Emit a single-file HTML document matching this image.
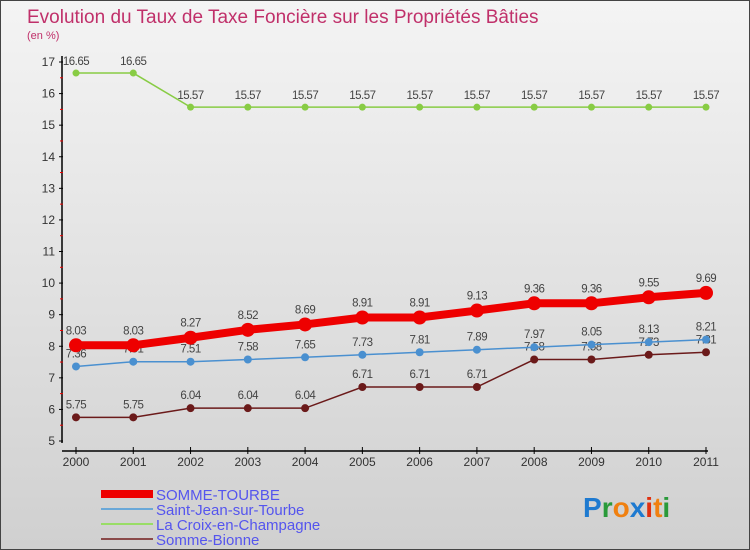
<!DOCTYPE html>
<html><head><meta charset="utf-8"><style>
body{margin:0;}
#wrap{width:750px;height:550px;position:relative;overflow:hidden;background:linear-gradient(#f4f4f4,#d0d0d0);box-sizing:border-box;border:1px solid #444;font-family:"Liberation Sans",sans-serif;}
</style></head><body>
<div id="wrap">
<svg id="chart" width="750" height="550"></svg>
</div>
<script>
const years=["2000","2001","2002","2003","2004","2005","2006","2007","2008","2009","2010","2011"];
const sommeTourbe=[8.03,8.03,8.27,8.52,8.69,8.91,8.91,9.13,9.36,9.36,9.55,9.69];
const saintJean=[7.36,7.51,7.51,7.58,7.65,7.73,7.81,7.89,7.97,8.05,8.13,8.21];
const laCroix=[16.65,16.65,15.57,15.57,15.57,15.57,15.57,15.57,15.57,15.57,15.57,15.57];
const sommeBionne=[5.75,5.75,6.04,6.04,6.04,6.71,6.71,6.71,7.58,7.58,7.73,7.81];
const yTicks=[5,6,7,8,9,10,11,12,13,14,15,16,17];
const NS="http://www.w3.org/2000/svg";
const svg=document.getElementById('chart');
function X(i){return 75+i*(705-75)/11;}
function Y(v){return 440-(v-5)*(440-61)/12;}
function mk(t,a,p){const e=document.createElementNS(NS,t);for(const k in a)e.setAttribute(k,a[k]);(p||svg).appendChild(e);return e;}
function txt(x,y,s,a,p){const e=mk('text',Object.assign({x:x,y:y,'font-family':'Liberation Sans, sans-serif'},a),p);e.textContent=s;return e;}
let t=txt(26,22,"Evolution du Taux de Taxe Foncière sur les Propriétés Bâties",{fill:'#c0306a','font-size':19});


t=txt(26,38,"(en %)",{fill:'#c0306a','font-size':11});


let ax=mk('line',{x1:61,y1:55,x2:61,y2:442,stroke:'#000','stroke-width':1.5});


ax=mk('line',{x1:61,y1:450,x2:707,y2:450,stroke:'#000','stroke-width':1.5});


yTicks.forEach(v=>{
 mk('line',{x1:58,y1:Y(v),x2:62,y2:Y(v),stroke:'#000'});
 if(v<17) mk('line',{x1:59,y1:Y(v+0.5),x2:62,y2:Y(v+0.5),stroke:'#e00'});
 const l=txt(54,Y(v)+4,String(v),{'font-size':12,fill:'#333','text-anchor':'end'});
 
 
});
years.forEach((y,i)=>{
 mk('line',{x1:X(i),y1:446,x2:X(i),y2:453,stroke:'#000'});
 const l=txt(X(i),465,y,{'font-size':12,fill:'#333','text-anchor':'middle'});
 
 
});
function series(vals,color,w,r,name,labelOff){
 const g=mk('g',{});
 
 
 mk('polyline',{points:vals.map((v,i)=>X(i)+','+Y(v)).join(' '),fill:'none',stroke:color,'stroke-width':w},g);
 vals.forEach((v,i)=>{
  const c=mk('circle',{cx:X(i),cy:Y(v),r:r,fill:color},g);
  
  
  const l=txt(X(i),Y(v)-labelOff,String(v),{'font-size':11.5,fill:'#444','text-anchor':'middle','letter-spacing':'-0.5'},g);
  
  
 });
}
series(laCroix,'#88cc44',1.5,3.5,'la-croix-series',8);
series(sommeBionne,'#6b1a1a',1.5,4,'somme-bionne-series',9);
series(saintJean,'#4a90d0',1.5,4,'saint-jean-series',9);
series(sommeTourbe,'#ee0000',8,7,'somme-tourbe-series',11);
const legend=[["SOMME-TOURBE","#ee0000",8],["Saint-Jean-sur-Tourbe","#6aa8d8",2],["La Croix-en-Champagne","#99dd66",2],["Somme-Bionne","#8a4a4a",2]];
legend.forEach((l,i)=>{
 const y=493+i*15;
 const g=mk('g',{});
 
 
 mk('line',{x1:100,y1:y,x2:152,y2:y,stroke:l[1],'stroke-width':l[2]},g);
 txt(155,y+6,l[0],{'font-size':15,fill:'#5555ee'},g);
});
const logo=txt(582,516,"",{'font-size':28,'font-weight':'bold'});


[["P","#1e7ad0"],["r","#2a9a3a"],["o","#f08010"],["x","#1e7ad0"],["i","#e03010"],["t","#f08010"],["i","#2a9a3a"]].forEach(c=>{const s=mk('tspan',{fill:c[1]},logo);s.textContent=c[0];});
</script>
</body></html>
